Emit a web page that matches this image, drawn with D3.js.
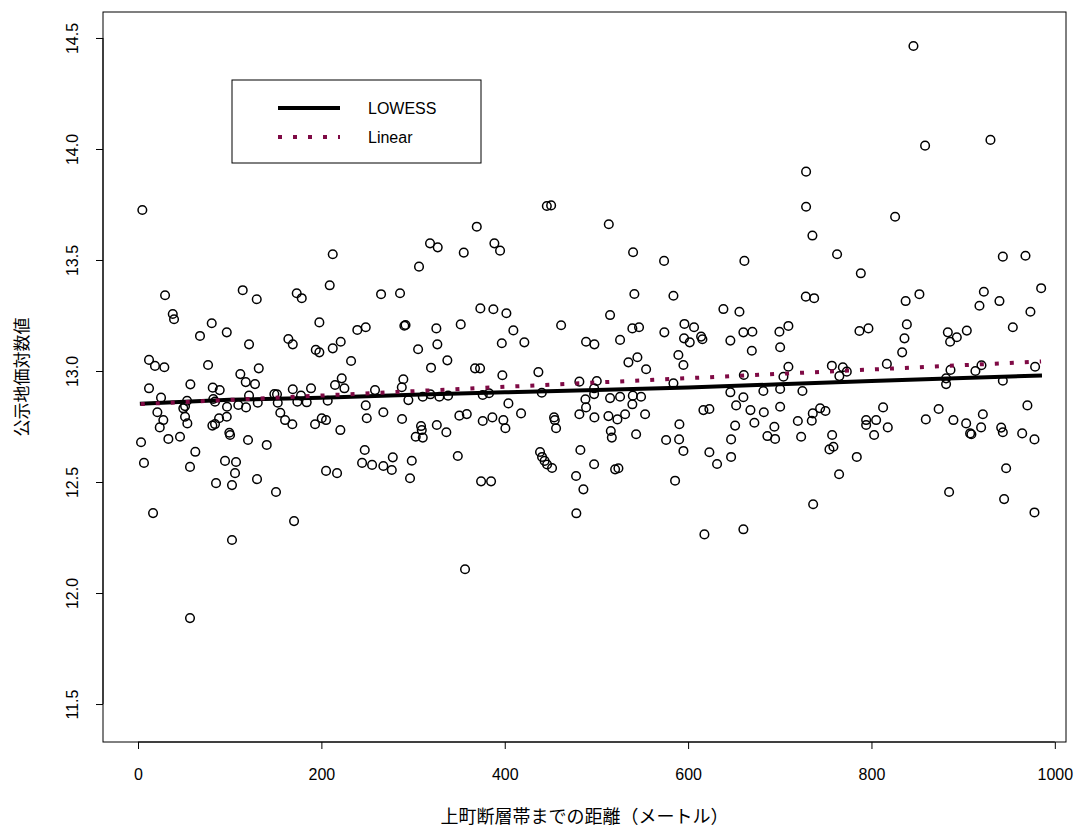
<!DOCTYPE html>
<html>
<head>
<meta charset="utf-8">
<script src="https://cdn.jsdelivr.net/npm/d3@7"></script>
<style>
  body { margin: 0; background: #fff; }
  svg { display: block; }
</style>
</head>
<body>
<svg id="chart" width="1080" height="830"></svg>
<script>
// distance (m) and log land price of each observation
const pointX = [
  4.7, 212.4, 209.1, 29.5, 114.2, 129.5, 173.1, 178.6, 37.9, 39.3,
  80.4, 96.8, 67.6, 121.1, 197.8, 239.2, 248.4, 164.0, 168.8, 193.9,
  197.8, 212.4, 221.1, 232.4, 12.0, 18.5, 28.7, 76.4, 111.6, 131.7,
  117.5, 127.6, 12.0, 57.1, 81.5, 89.1, 25.1, 53.5, 82.1, 121.1,
  148.7, 151.6, 168.8, 177.8, 173.8, 184.0, 188.7, 206.9, 214.9, 222.2,
  225.1, 258.5, 109.4, 117.8, 130.6, 152.4, 97.1, 49.4, 51.3, 248.4,
  21.1, 27.6, 23.7, 51.3, 53.8, 88.4, 96.8, 81.1, 84.0, 155.2,
  160.4, 168.3, 193.1, 200.4, 205.1, 249.5, 220.7, 3.3, 33.1, 45.8,
  99.6, 100.4, 120.0, 140.4, 62.5, 247.3, 6.5, 16.4, 56.7, 56.7,
  85.1, 94.9, 106.9, 105.8, 102.5, 129.8, 150.5, 170.2, 102.5, 205.1,
  217.1, 244.4, 255.3, 84.0,
  445.9, 450.6, 369.5, 513.5, 318.5, 326.9, 355.3, 388.7, 394.9, 306.5,
  265.1, 285.8, 373.4, 387.6, 401.8, 514.9, 461.5, 290.5, 291.8, 325.4,
  352.0, 409.4, 326.5, 305.5, 396.8, 421.4, 488.7, 497.8, 525.8, 337.4,
  319.6, 367.6, 373.1, 397.4, 436.7, 289.4, 287.7, 481.4, 500.4, 497.5,
  497.5, 440.4, 294.9, 310.6, 318.9, 328.7, 338.2, 376.0, 382.9, 488.0,
  488.7, 514.9, 525.8, 404.0, 267.6, 288.0, 350.5, 358.6, 376.0, 386.5,
  398.5, 400.7, 417.8, 453.8, 454.6, 456.0, 481.4, 497.8, 513.1, 522.9,
  515.7, 516.8, 308.7, 309.5, 310.6, 302.9, 325.9, 336.3, 482.5, 277.9,
  298.6, 348.8, 267.6, 276.8, 296.7, 374.2, 385.1, 356.7, 438.5, 440.7,
  443.5, 446.2, 451.6, 477.8, 485.8, 478.1, 497.5, 520.4, 524.0,
  728.7, 728.7, 735.6, 762.5, 788.4, 540.0, 573.8, 661.4, 541.4, 584.0,
  728.4, 737.5, 638.5, 656.0, 539.2, 546.5, 574.1, 596.0, 606.5, 595.6,
  601.8, 614.2, 615.6, 646.1, 660.3, 670.1, 699.6, 709.4, 786.9, 669.5,
  700.4, 534.9, 544.7, 554.2, 589.4, 594.9, 709.4, 704.0, 756.8, 768.8,
  773.1, 765.0, 660.8, 584.0, 539.7, 548.7, 539.2, 531.3, 553.1, 646.1,
  660.3, 682.1, 700.4, 724.7, 652.4, 668.0, 682.6, 700.4, 616.7, 623.2,
  590.5, 651.3, 672.3, 694.1, 719.7, 734.9, 736.0, 744.0, 749.8, 543.3,
  576.0, 590.2, 594.9, 623.2, 646.9, 686.5, 694.9, 723.3, 757.1, 754.2,
  758.5, 646.9, 784.0, 585.8, 631.6, 617.8, 660.3, 736.4, 764.7,
  845.8, 858.5, 929.8, 825.8, 943.3, 968.0, 852.3, 837.3, 922.6, 939.6,
  985.1, 917.8, 973.4, 796.7, 838.6, 836.0, 833.5, 883.3, 885.8, 893.1,
  904.0, 954.2, 816.8, 886.2, 913.4, 920.0, 978.5, 881.4, 881.4, 943.3,
  812.7, 794.2, 794.2, 805.1, 817.8, 802.9, 859.3, 873.3, 889.4, 903.3,
  907.6, 909.0, 919.6, 921.5, 941.5, 943.3, 964.4, 970.1, 977.8, 946.9,
  884.7, 944.7, 977.8
];
const pointY = [
  13.725, 13.526, 13.386, 13.341, 13.364, 13.323, 13.350, 13.328, 13.257, 13.233,
  13.215, 13.174, 13.158, 13.120, 13.219, 13.185, 13.197, 13.144, 13.120, 13.095,
  13.084, 13.102, 13.132, 13.045, 13.050, 13.023, 13.017, 13.027, 12.986, 13.012,
  12.950, 12.941, 12.922, 12.940, 12.925, 12.914, 12.880, 12.866, 12.874, 12.889,
  12.896, 12.895, 12.918, 12.889, 12.862, 12.859, 12.922, 12.866, 12.937, 12.967,
  12.922, 12.914, 12.847, 12.836, 12.857, 12.857, 12.839, 12.832, 12.842, 12.845,
  12.814, 12.779, 12.746, 12.794, 12.764, 12.787, 12.794, 12.754, 12.761, 12.812,
  12.779, 12.760, 12.760, 12.787, 12.779, 12.787, 12.734, 12.679, 12.694, 12.704,
  12.722, 12.712, 12.689, 12.667, 12.636, 12.644, 12.586, 12.360, 12.568, 11.887,
  12.495, 12.595, 12.590, 12.540, 12.486, 12.513, 12.455, 12.324, 12.239, 12.550,
  12.540, 12.586, 12.577, 12.862,
  13.743, 13.746, 13.650, 13.661, 13.575, 13.557, 13.533, 13.575, 13.542, 13.470,
  13.346, 13.350, 13.282, 13.278, 13.260, 13.252, 13.206, 13.204, 13.207, 13.192,
  13.210, 13.183, 13.120, 13.098, 13.125, 13.129, 13.132, 13.120, 13.140, 13.048,
  13.015, 13.012, 13.012, 12.981, 12.995, 12.963, 12.927, 12.952, 12.955, 12.922,
  12.896, 12.902, 12.869, 12.884, 12.895, 12.884, 12.889, 12.892, 12.900, 12.873,
  12.836, 12.878, 12.884, 12.854, 12.814, 12.784, 12.799, 12.806, 12.775, 12.791,
  12.779, 12.742, 12.809, 12.791, 12.779, 12.742, 12.805, 12.791, 12.797, 12.782,
  12.730, 12.700, 12.752, 12.734, 12.700, 12.704, 12.757, 12.724, 12.644, 12.611,
  12.596, 12.617, 12.572, 12.554, 12.517, 12.503, 12.503, 12.107, 12.635, 12.613,
  12.595, 12.579, 12.563, 12.527, 12.467, 12.359, 12.580, 12.557, 12.562,
  13.898, 13.740, 13.610, 13.526, 13.440, 13.535, 13.496, 13.496, 13.347, 13.339,
  13.335, 13.328, 13.279, 13.267, 13.192, 13.197, 13.174, 13.212, 13.197, 13.147,
  13.129, 13.155, 13.143, 13.137, 13.174, 13.177, 13.177, 13.203, 13.180, 13.091,
  13.107, 13.039, 13.062, 13.008, 13.072, 13.027, 13.019, 12.974, 13.024, 13.017,
  12.997, 12.977, 12.982, 12.945, 12.889, 12.884, 12.850, 12.805, 12.805, 12.904,
  12.882, 12.910, 12.919, 12.910, 12.845, 12.824, 12.814, 12.839, 12.824, 12.829,
  12.760, 12.754, 12.767, 12.749, 12.775, 12.776, 12.809, 12.832, 12.820, 12.715,
  12.689, 12.692, 12.640, 12.634, 12.692, 12.707, 12.694, 12.704, 12.712, 12.647,
  12.659, 12.613, 12.613, 12.506, 12.581, 12.264, 12.287, 12.400, 12.535,
  14.464, 14.015, 14.041, 13.695, 13.515, 13.519, 13.346, 13.315, 13.357, 13.315,
  13.373, 13.294, 13.267, 13.192, 13.210, 13.147, 13.084, 13.174, 13.132, 13.152,
  13.182, 13.197, 13.032, 13.005, 13.000, 13.026, 13.019, 12.967, 12.941, 12.956,
  12.836, 12.779, 12.757, 12.779, 12.746, 12.712, 12.782, 12.829, 12.779, 12.764,
  12.719, 12.715, 12.746, 12.805, 12.745, 12.724, 12.719, 12.845, 12.692, 12.562,
  12.455, 12.423, 12.363
];

// smoothed curve and least-squares line
const lowessX = [2, 100, 200, 300, 400, 500, 600, 700, 800, 900, 986];
const lowessY = [12.853, 12.870, 12.880, 12.893, 12.904, 12.914, 12.926, 12.940, 12.955, 12.968, 12.980];
const linearX = [3, 985];
const linearY = [12.851, 13.043];

const xTicks = [0, 200, 400, 600, 800, 1000];
const yTicks = [11.5, 12.0, 12.5, 13.0, 13.5, 14.0, 14.5];

const legendLabels = ["LOWESS", "Linear"];
const xTitle = "上町断層帯までの距離（メートル）";
const yTitle = "公示地価対数値";

const plot = { left: 103, right: 1066, top: 12, bottom: 742 };
const numFont = "'Liberation Sans', Arial, sans-serif";
const jpFont = "'Noto Sans CJK JP', 'Noto Sans', sans-serif";
const linColor = "#7f0a45";

const svg = d3.select("#chart");
svg.append("rect").attr("width", 1080).attr("height", 830).attr("fill", "#fff");

const x = d3.scaleLinear().domain([-38.2, 1012.2]).range([plot.left, plot.right]);
const y = d3.scaleLinear().domain([11.329, 14.617]).range([plot.bottom, plot.top]);

// points
svg.append("g")
    .selectAll("circle")
    .data(pointX.map((d, i) => [d, pointY[i]]))
    .enter()
    .append("circle")
    .attr("cx", (d) => x(d[0]))
    .attr("cy", (d) => y(d[1]))
    .attr("r", 4.3)
    .attr("fill", "none")
    .attr("stroke", "#000")
    .attr("stroke-width", 1.5);

// lines
const line = d3.line().x((d) => x(d[0])).y((d) => y(d[1]));

svg.append("path")
    .datum(lowessX.map((d, i) => [d, lowessY[i]]))
    .attr("d", line)
    .attr("fill", "none")
    .attr("stroke", "#000")
    .attr("stroke-width", 4);

svg.append("path")
    .datum(linearX.map((d, i) => [d, linearY[i]]))
    .attr("d", line)
    .attr("fill", "none")
    .attr("stroke", linColor)
    .attr("stroke-width", 4)
    .attr("stroke-dasharray", "4 11");

// box
svg.append("rect")
    .attr("x", plot.left)
    .attr("y", plot.top)
    .attr("width", plot.right - plot.left)
    .attr("height", plot.bottom - plot.top)
    .attr("fill", "none")
    .attr("stroke", "#000")
    .attr("stroke-width", 1);

// x axis
const xAxis = svg.append("g")
    .attr("transform", `translate(0,${plot.bottom})`)
    .call(d3.axisBottom(x).tickValues(xTicks).tickSize(7).tickPadding(20).tickFormat(d3.format("d")));
xAxis.select(".domain").attr("d", `M${x(0)},0H${x(1000)}`);
xAxis.selectAll("text").style("font-family", numFont).style("font-size", "16px").attr("fill", "#000");

// y axis
const yAxis = svg.append("g")
    .attr("transform", `translate(${plot.left},0)`)
    .call(d3.axisLeft(y).tickValues(yTicks).tickSize(7).tickFormat(d3.format(".1f")));
yAxis.select(".domain").attr("d", `M0,${y(11.5)}V${y(14.5)}`);
yAxis.selectAll("text")
    .style("font-family", numFont)
    .style("font-size", "16px")
    .attr("fill", "#000")
    .attr("x", null)
    .attr("dy", null)
    .attr("text-anchor", "middle")
    .attr("transform", "translate(-25,0) rotate(-90)");

// axis titles
svg.append("text")
    .attr("x", (plot.left + plot.right) / 2)
    .attr("y", 823)
    .attr("text-anchor", "middle")
    .style("font-family", jpFont)
    .style("font-size", "18px")
    .text(xTitle);

svg.append("text")
    .attr("transform", `translate(28,${(plot.top + plot.bottom) / 2}) rotate(-90)`)
    .attr("text-anchor", "middle")
    .style("font-family", jpFont)
    .style("font-size", "17px")
    .text(yTitle);

// legend
const legend = svg.append("g").attr("transform", "translate(232,80)");
legend.append("rect")
    .attr("width", 249)
    .attr("height", 83)
    .attr("fill", "#fff")
    .attr("stroke", "#000")
    .attr("stroke-width", 1);

legendLabels.forEach((label, i) => {
    const ly = 28 + i * 29;
    legend.append("line")
        .attr("x1", 46).attr("x2", 108)
        .attr("y1", ly).attr("y2", ly)
        .attr("stroke", i === 0 ? "#000" : linColor)
        .attr("stroke-width", 4)
        .attr("stroke-dasharray", i === 0 ? null : "4 11");
    legend.append("text")
        .attr("x", 136)
        .attr("y", ly + 6)
        .style("font-family", numFont)
        .style("font-size", "16px")
        .text(label);
});
</script>
</body>
</html>
